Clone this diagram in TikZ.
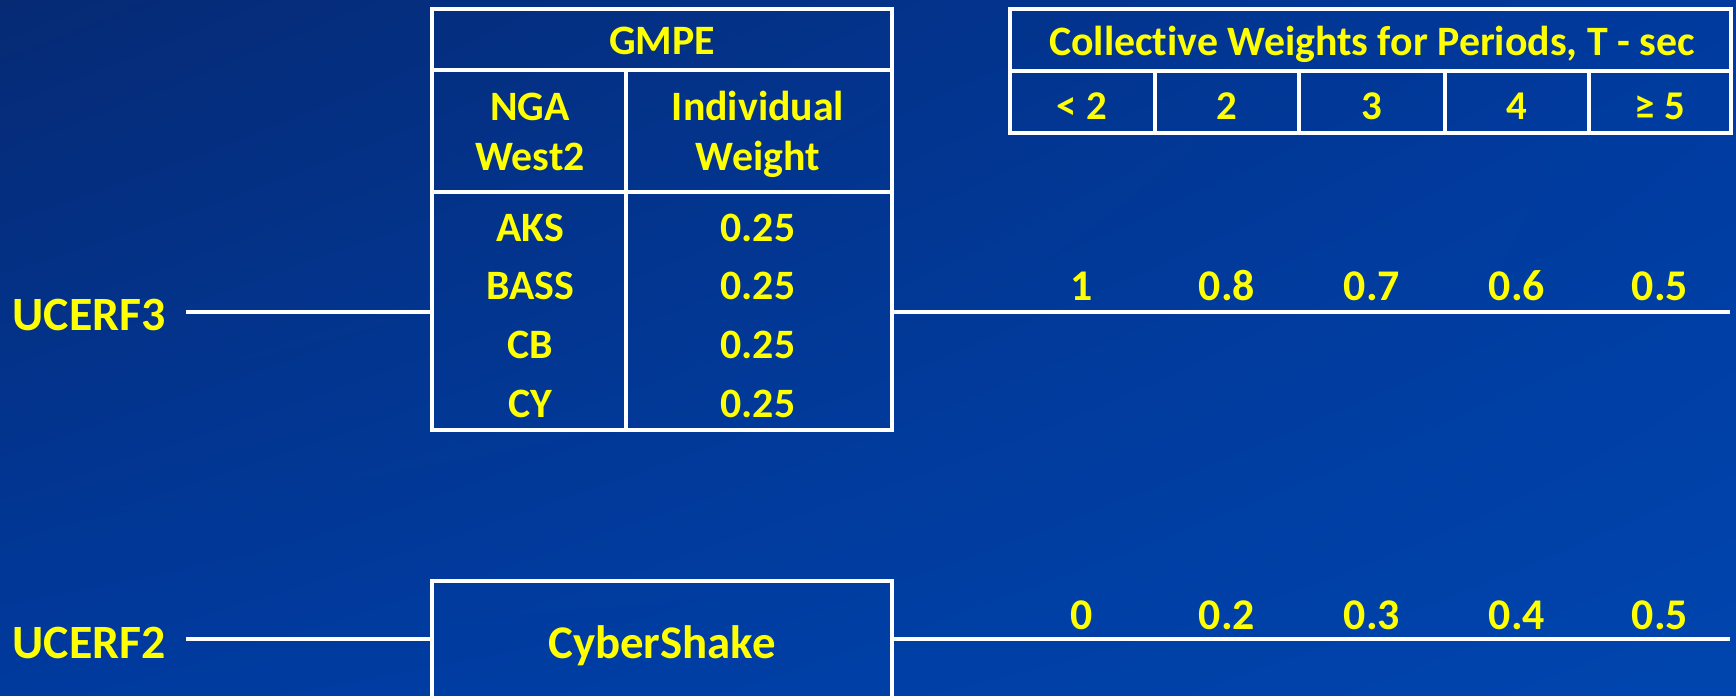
\documentclass[tikz,border=0pt]{standalone}
\usepackage{fontspec}
\setmainfont{Carlito}[Ligatures=NoCommon]
\usetikzlibrary{shadings}
\definecolor{bgA}{HTML}{062A74}
\definecolor{bgB}{HTML}{003A9E}
\definecolor{bgC}{HTML}{0045AE}
\definecolor{ylw}{HTML}{FFFF00}
\begin{document}
\begin{tikzpicture}[x=1bp,y=-1bp,
  rule/.style={draw=white, line width=4bp},
  lbl/.style={text=ylw, font=\bfseries\fontsize{42}{50}\selectfont, anchor=base, inner sep=0pt},
  big/.style={lbl, font=\bfseries\fontsize{48}{56}\selectfont},
  hdr/.style={lbl, font=\bfseries\fontsize{42}{50}\selectfont},
  per/.style={lbl, font=\bfseries\fontsize{41}{48}\selectfont},
  wgt/.style={lbl, font=\bfseries\fontsize{44}{52}\selectfont},
  box/.style={rule, anchor=north west, inner sep=0pt, outer sep=0pt}]
\shade[upper left=bgA, upper right=bgB, lower left=bgB, lower right=bgC] (0,0) rectangle (1736,696);
\useasboundingbox (0,0) rectangle (1736,696);

% GMPE table
\node[box, minimum width=460bp, minimum height=421bp] (gmpe) at (432,9) {};
\draw[rule] (432,70) -- (892,70);
\draw[rule] (432,192) -- (892,192);
\draw[rule] (626,70) -- (626,430);
\node[lbl] (tg) at (662,55) {GMPE};
\node[lbl] (tn1) at (530,121) {NGA};
\node[lbl] (tn2) at (530,171) {West2};
\node[lbl] (ti1) at (758,121) {Individual};
\node[lbl] (ti2) at (758,171) {Weight};
\foreach \n/\y in {AKS/241,BASS/299,CB/358,CY/417}{
  \node[lbl] (m\n) at (530,\y) {\n};
  \node[lbl] (w\n) at (758,\y) {0.25};
}

% Collective weights table
\node[box, minimum width=721bp, minimum height=124bp] (cw) at (1010,9) {};
\draw[rule] (1010,71) -- (1731,71);
\foreach \x in {1155,1299,1445,1589}{ \draw[rule] (\x,71) -- (\x,133); }
\node[hdr] (ch) at (1372,56) {Collect\kern0pt ive Weights for Periods, T - sec};
\foreach \x/\t [count=\i] in {1082/{< 2},1227/2,1372/3,1517/4,1660/{≥ 5}}{
  \node[per] (p\i) at (\x,120) {\t};
}

% CyberShake box
\node[box, minimum width=460bp, minimum height=140bp] (cyber) at (432,581) {};
\node[lbl, font=\bfseries\fontsize{47}{55}\selectfont] (ct) at (662,658) {CyberShake};

% Branch labels
\node[big] (u3) at (89,330) {UCERF3};
\node[big] (u2) at (89,658) {UCERF2};

\coordinate (a3) at (186,312);
\coordinate (e3) at (1730,312);
\coordinate (a2) at (186,639);
\coordinate (e2) at (1730,639);
\draw[rule] (a3) -- (a3 -| gmpe.west);
\draw[rule] (a3 -| gmpe.east) -- (e3);
\draw[rule] (a2) -- (a2 -| cyber.west);
\draw[rule] (a2 -| cyber.east) -- (e2);

% Weights
\foreach \x/\a/\b [count=\i] in {1082/1/0,1227/0.8/0.2,1372/0.7/0.3,1517/0.6/0.4,1660/0.5/0.5}{
  \node[wgt] (r\i) at (\x,300) {\a};
  \node[wgt] (s\i) at (\x,629) {\b};
}
\end{tikzpicture}
\end{document}
